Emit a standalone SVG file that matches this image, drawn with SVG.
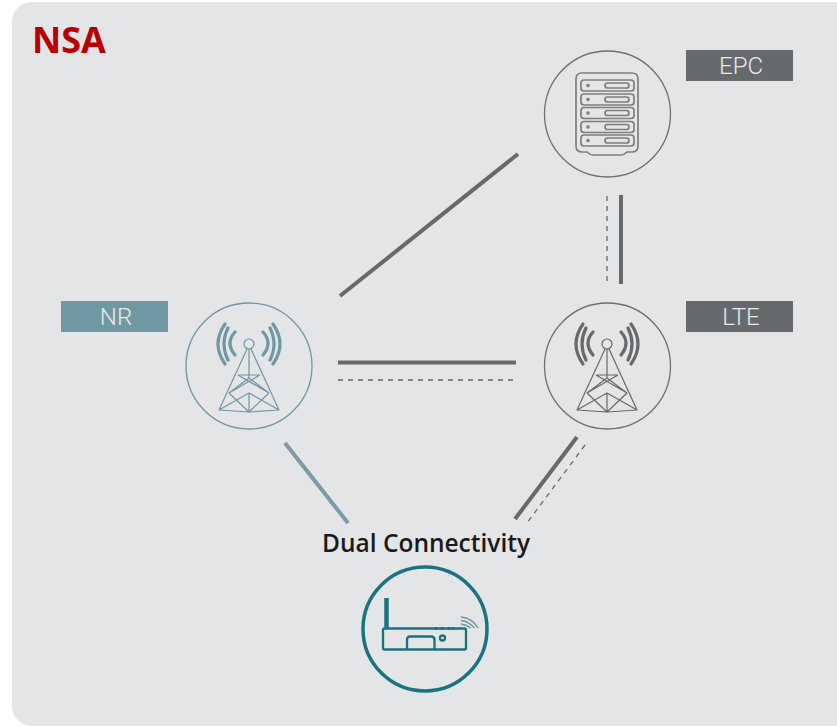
<svg xmlns="http://www.w3.org/2000/svg" width="837" height="727" viewBox="0 0 837 727">
<style>
.ring{fill:none;stroke-width:1.3}
.lab{font-family:"Roboto","Liberation Sans",sans-serif;font-weight:300;font-size:24px;fill:#e8eaea;text-anchor:middle}
.solid{fill:none;stroke-width:4;stroke-linecap:butt}
.dash{fill:none;stroke:#666a6c;stroke-width:1.3;stroke-dasharray:5 5}
.t{fill:none;stroke-width:1.2;stroke-linejoin:round}
.w{fill:none;stroke-width:3.200;stroke-linecap:round}
.srv{fill:none;stroke:#7c7f80;stroke-width:1.7}
.rt{fill:none;stroke:#1a7380;stroke-width:2.300;stroke-linejoin:round}
</style>
<defs>
<g id="tower">
<circle class="t" cx="0" cy="-22" r="5"/>
<path class="t" d="M-2-17-30 44 0 46 30 44 2-17M-20 27 0 46 20 27M-20 27 0 12 20 27M-11 9H11M-11 9 20 27M11 9-20 27M-30 44 0 27 30 44M0 27V46M0-17V12"/>
<path class="w" d="M-14-34Q-24-23-14-11M-21-38Q-29-22-21-6M-24-42Q-38-22-24-2M14-34Q24-23 14-11M21-38Q29-22 21-6M24-42Q38-22 24-2"/>
</g>
</defs>
<rect width="837" height="727" fill="#ffffff"/>
<rect id="panel" x="12" y="2" width="845" height="724" rx="20" ry="20" fill="#e4e5e7"/>
<text id="title" x="32" y="53" font-family="'Open Sans','Liberation Sans',sans-serif" font-weight="700" font-size="36" fill="#b90000">NSA</text>
<g id="connectors">
<path class="solid" stroke="#666a6c" d="M518 154 340 296"/>
<path class="solid" stroke="#666a6c" d="M621 195V284"/>
<path class="dash" d="M607 196V282"/>
<path class="solid" stroke="#666a6c" d="M338 362.500H516"/>
<path class="dash" d="M338 380H516"/>
<path class="solid" stroke="#7d9ba5" d="M285 443 348 523"/>
<path class="solid" stroke="#666a6c" d="M577 437 515 519"/>
<path class="dash" d="M585 445 527 523"/>
</g>
<g id="epc">
<circle class="ring" stroke="#6e7173" cx="607.500" cy="114" r="63"/>
<path class="srv" d="M582 73H632Q638 73 638 79V146Q638 152 632 152H627Q624 155 621 155H593Q590 155 587 152H582Q576 152 576 146V79Q576 73 582 73Z"/>
<g class="srv">
<rect x="581" y="80" width="53" height="11" rx="3"/><rect x="581" y="94" width="53" height="11" rx="3"/><rect x="581" y="107.500" width="53" height="11" rx="3"/><rect x="581" y="121.500" width="53" height="11" rx="3"/><rect x="581" y="135" width="53" height="11" rx="3"/>
<rect x="605" y="83" width="24" height="5" rx="2.500"/><rect x="605" y="97" width="24" height="5" rx="2.500"/><rect x="605" y="110.500" width="24" height="5" rx="2.500"/><rect x="605" y="124.500" width="24" height="5" rx="2.500"/><rect x="605" y="138" width="24" height="5" rx="2.500"/>
</g>
<g fill="#7c7f80"><circle cx="588" cy="85.500" r="1.800"/><circle cx="588" cy="99.500" r="1.800"/><circle cx="588" cy="113" r="1.800"/><circle cx="588" cy="127" r="1.800"/><circle cx="588" cy="140.500" r="1.800"/></g>
</g>
<g id="epc-label"><rect x="686" y="50" width="107" height="31" fill="#666a6c"/><text class="lab" x="741" y="74">EPC</text></g>
<g id="nr">
<circle class="ring" stroke="#6f98a3" cx="249" cy="366" r="63"/>
<use href="#tower" x="249" y="366" stroke="#6f98a3"/>
</g>
<g id="nr-label"><rect x="61" y="301" width="107" height="31" fill="#6f98a3"/><text class="lab" x="116" y="325">NR</text></g>
<g id="lte">
<circle class="ring" stroke="#6e7173" cx="607.500" cy="366" r="63"/>
<use href="#tower" x="607" y="366" stroke="#666a6c"/>
</g>
<g id="lte-label"><rect x="686" y="301" width="107" height="31" fill="#666a6c"/><text class="lab" x="741" y="325">LTE</text></g>
<g id="ue">
<text x="426" y="552" text-anchor="middle" font-family="'Open Sans','Liberation Sans',sans-serif" font-weight="600" font-size="24.500" fill="#1a1a1a">Dual Connectivity</text>
<circle cx="425" cy="629" r="62" fill="none" stroke="#1a7380" stroke-width="3.500"/>
<path d="M386.500 598V628" fill="none" stroke="#1a7380" stroke-width="4.500"/>
<rect class="rt" x="383" y="628.500" width="83" height="21" rx="1.500"/>
<path class="rt" d="M407 649V640Q407 636.500 410 636.500H431Q434.500 636.500 434.500 640V649"/>
<circle class="rt" cx="442.500" cy="638" r="2.500"/>
<path d="M436 630V627M442 630V627M449 630V627M453 630V627" fill="none" stroke="#1a7380" stroke-width="2.500"/>
<path d="M461 617Q472 618 478 628M461 620.500Q469 621.500 474.500 628M461 624Q467 625 471 628" fill="none" stroke="#6f98a3" stroke-width="1.400"/>
</g>
</svg>
